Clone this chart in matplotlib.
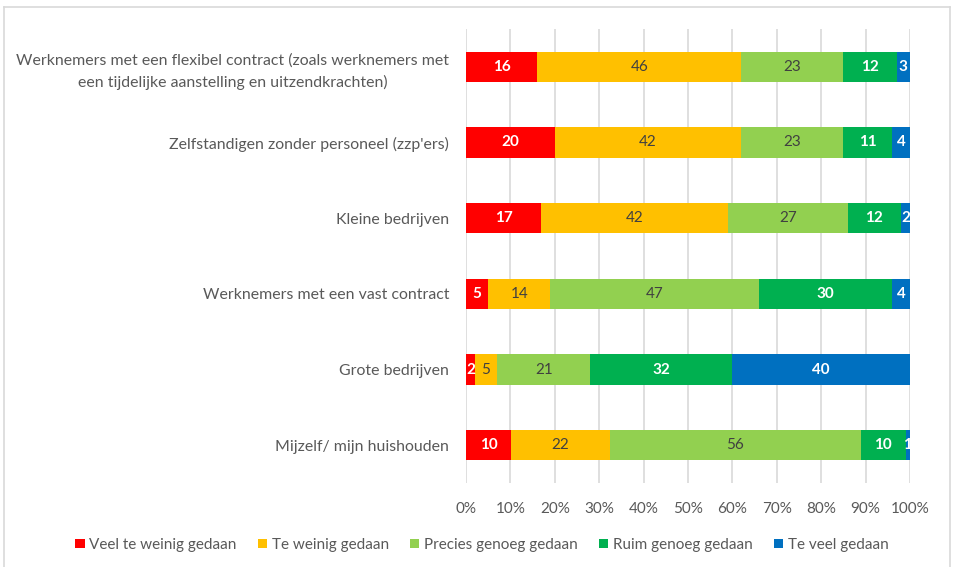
import numpy as np
import matplotlib.pyplot as plt
from matplotlib.lines import Line2D

# categories, top to bottom
categories = [
    "Werknemers met een flexibel contract (zoals werknemers met\neen tijdelijke aanstelling en uitzendkrachten)",
    "Zelfstandigen zonder personeel (zzp'ers)",
    "Kleine bedrijven",
    "Werknemers met een vast contract",
    "Grote bedrijven",
    "Mijzelf/ mijn huishouden",
]
series_names = ["Veel te weinig gedaan", "Te weinig gedaan", "Precies genoeg gedaan",
                "Ruim genoeg gedaan", "Te veel gedaan"]
veel_te_weinig = [16, 20, 17, 5, 2, 10]
te_weinig = [46, 42, 42, 14, 5, 22]
precies_genoeg = [23, 23, 27, 47, 21, 56]
ruim_genoeg = [12, 11, 12, 30, 32, 10]
te_veel = [3, 4, 2, 4, 40, 1]
tick_labels = ["0%", "10%", "20%", "30%", "40%", "50%", "60%", "70%", "80%", "90%", "100%"]

colors = ["#FF0000", "#FFC000", "#92D050", "#00B050", "#0070C0"]
text_colors = ["white", "#404040", "#404040", "white", "white"]

plt.rcParams['font.family'] = ['Lato', 'DejaVu Sans']

values = np.array([veel_te_weinig, te_weinig, precies_genoeg, ruim_genoeg, te_veel], dtype=float)
totals = values.sum(axis=0)
shares = values / totals  # 100% stacked

fig = plt.figure(figsize=(9.55, 5.67), dpi=100)
ax = fig.add_axes([466 / 955, 1 - 483 / 567, 444 / 955, 454 / 567])

y = np.arange(len(categories))
left = np.zeros(len(categories))
for i, name in enumerate(series_names):
    bars = ax.barh(y, shares[i], left=left, height=0.4, color=colors[i], label=name, zorder=3)
    for j, b in enumerate(bars):
        ax.text(left[j] + shares[i][j] / 2, y[j], f"{int(values[i][j])}",
                ha='center', va='center', color=text_colors[i], fontsize=11,
                fontweight='bold' if text_colors[i] == 'white' else 'normal', zorder=4)
    left += shares[i]

ax.set_xlim(0, 1)
ax.set_ylim(len(categories) - 0.5, -0.5)
ax.set_xticks(np.linspace(0, 1, 11))
ax.set_xticklabels(tick_labels)
ax.set_yticks(y)
ax.set_yticklabels(categories, multialignment='center', fontsize=11.4, linespacing=1.6)
ax.tick_params(axis='both', length=0, colors='#595959')
ax.tick_params(axis='x', labelsize=11, pad=14)
ax.tick_params(axis='y', pad=12)
ax.xaxis.grid(True, color='#d9d9d9', linewidth=1.2, zorder=0)
for s in ax.spines.values():
    s.set_visible(False)

leg = fig.legend(loc='center', bbox_to_anchor=(482 / 955, 1 - 545 / 567), ncol=5, frameon=False,
                 fontsize=11, handlelength=0.6, handleheight=0.6, handletextpad=0.3,
                 columnspacing=1.4)
for t in leg.get_texts():
    t.set_color('#595959')

# chart frame
W, H = 955, 567
fig.add_artist(Line2D([4 / W, 4 / W], [0, 1 - 7 / H], color='#d9d9d9', lw=1.2, transform=fig.transFigure))
fig.add_artist(Line2D([4 / W, 950 / W], [1 - 7 / H, 1 - 7 / H], color='#d9d9d9', lw=1.2, transform=fig.transFigure))
fig.add_artist(Line2D([950 / W, 950 / W], [0, 1 - 7 / H], color='#d9d9d9', lw=1.2, transform=fig.transFigure))

fig.savefig('out.png', dpi=100)
